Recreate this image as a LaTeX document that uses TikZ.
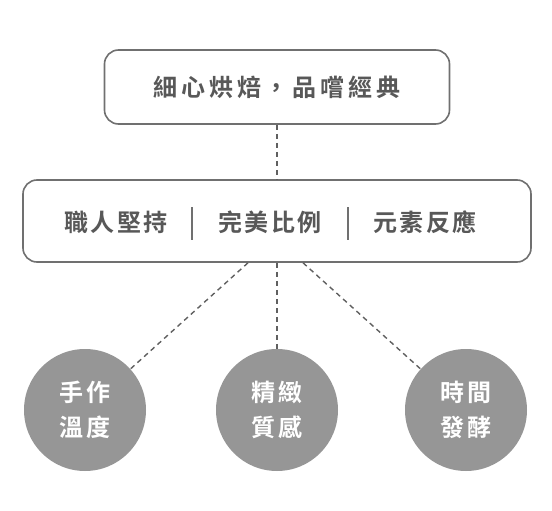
\documentclass[tikz,border=0pt]{standalone}
\usepackage{fontspec}
\usepackage{tikz}
\usetikzlibrary{positioning,calc}
\newfontfamily\cjk{Noto Sans CJK TC}[BoldFont={Noto Sans CJK TC Bold}]
\definecolor{LineG}{RGB}{112,112,112}
\definecolor{TextG}{RGB}{88,88,88}
\definecolor{DotG} {RGB}{150,150,150}
\definecolor{DashG}{RGB}{96,96,96}
\begin{document}
\begin{tikzpicture}[x=1pt,y=-1pt,
    panel/.style={draw=LineG,line width=1.6pt,rounded corners=14pt,fill=white},
    pillar/.style={text=TextG,inner sep=0pt,
      font=\cjk\bfseries\fontsize{24}{28}\selectfont\addfontfeatures{LetterSpace=10}},
    seed/.style={circle,fill=DotG,minimum size=122pt,inner sep=0pt,text=white,align=center,
      font=\cjk\bfseries\fontsize{24}{35}\selectfont\addfontfeatures{LetterSpace=12}},
    link/.style={draw=DashG,line width=1.4pt,dash pattern=on 5pt off 4pt},
    sep/.style={draw=LineG,line width=1.6pt}]
  \useasboundingbox (0,0) rectangle (552,511);
  % title and the three pillars
  \node[panel,minimum width=345pt,minimum height=74pt,text=TextG,
    font=\cjk\bfseries\fontsize{24}{28}\selectfont\addfontfeatures{LetterSpace=16}]
    (title) at (277,87) {細心烘焙，品嚐經典};
  \node[panel,minimum width=508pt,minimum height=82pt] (pillars) at (277,221) {};
  \node[pillar] (craft) at (116,222) {職人堅持};
  \node[pillar] (ratio) at (270,222) {完美比例};
  \node[pillar] (react) at (425,222) {元素反應};
  \draw[sep] (192,207) -- (192,240);
  \draw[sep] (348,207) -- (348,240);
  % circles
  \node[seed] (warmth)  at (85,410)  {手作\\溫度};
  \node[seed] (texture) at (277,410) {精緻\\質感};
  \node[seed] (ferment) at (466,410) {時間\\發酵};
  \coordinate (fanL) at ($(pillars.south)+(-29,0)$);
  \coordinate (fanR) at ($(pillars.south)+(26,0)$);
  \draw[link] (title) -- (pillars);
  \draw[link] (fanL) -- (warmth);
  \draw[link] (pillars.south) -- (texture);
  \draw[link] (fanR) -- (ferment);
\end{tikzpicture}
\end{document}
